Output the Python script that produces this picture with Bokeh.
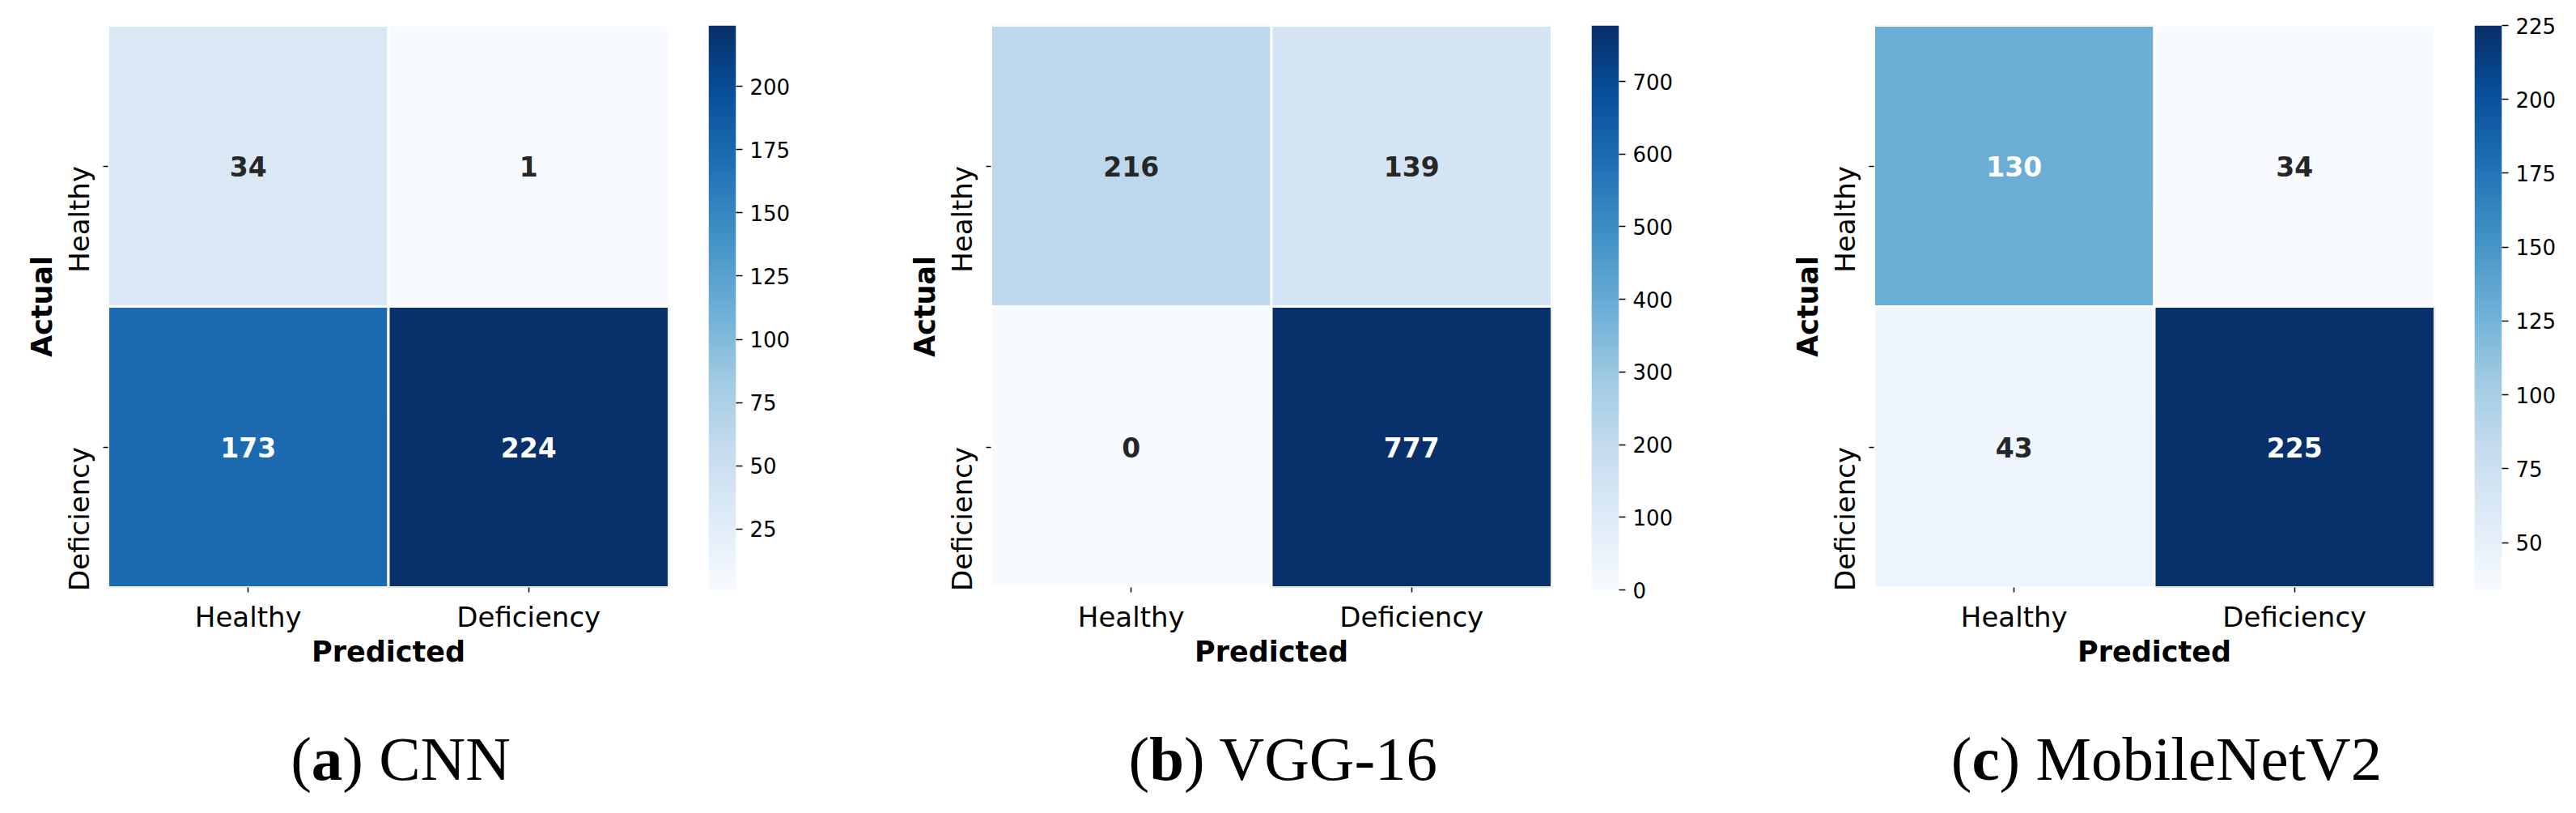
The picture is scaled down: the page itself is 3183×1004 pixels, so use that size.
import numpy as np
from bokeh.plotting import figure
from bokeh.models import (LinearColorMapper, Label, FixedTicker, Range1d,
                          ColumnDataSource)
from bokeh.transform import transform
from bokeh.palettes import Blues256
from bokeh.layouts import row, column
from bokeh.core.properties import value
from bokeh.embed import file_html
from bokeh.resources import INLINE

# ---------------- data ----------------
CLASSES = ["Healthy", "Deficiency"]          # rows: actual, cols: predicted
CNN = [[34, 1], [173, 224]]
VGG16 = [[216, 139], [0, 777]]
MOBILENET = [[130, 34], [43, 225]]

CB_TICKS_CNN = [25, 50, 75, 100, 125, 150, 175, 200]
CB_TICKS_VGG = [0, 100, 200, 300, 400, 500, 600, 700]
CB_TICKS_MOB = [50, 75, 100, 125, 150, 175, 200, 225]

CAPTION_LETTERS = ["a", "b", "c"]
CAPTION_NAMES = ["CNN", "VGG-16", "MobileNetV2"]

# ---------------- style / layout ----------------
PAL = list(reversed(Blues256))
SANS = "DejaVu Sans"
SERIF = "Liberation Serif"
FRAME_W, FRAME_H = 693, 694
MAIN_LEFT, MAIN_RIGHT, MAIN_TOP, MAIN_BOTTOM = 133, 20, 31, 170
CB_W, CB_H = 34, 697
CB_LEFT, CB_TOP, CB_BOTTOM = 29, 29, 169
CB_RIGHT = [182, 182, 80]
CAP_H, CAP_BASE, CAP_SHIFT = 105, 64, 15
TICK_FS = "34px"
LABEL_FS = "35px"
ANNOT_FS = "33px"
CB_FS = "26px"
CAP_FS = 77

# Times-like advance widths (em) for caption layout
W_TIMES = {"(": .333, ")": .333, " ": .25, "C": .667, "N": .722, "V": .722,
           "G": .722, "-": .333, "1": .5, "6": .5, "M": .889, "o": .5,
           "b": .5, "i": .278, "l": .278, "e": .444, "t": .278, "2": .5}
W_BOLD = {"a": .5, "b": .556, "c": .444}


def rel_lum(hexc):
    h = hexc.lstrip("#")
    vals = []
    for k in (0, 2, 4):
        c = int(h[k:k + 2], 16) / 255.0
        vals.append(c / 12.92 if c <= 0.03928 else ((c + 0.055) / 1.055) ** 2.4)
    return 0.2126 * vals[0] + 0.7152 * vals[1] + 0.0722 * vals[2]


def text_width(s, table, fs):
    return sum(table.get(ch, .5) for ch in s) * fs


def make_panel(matrix, cb_ticks, cb_right):
    flat = [v for r in matrix for v in r]
    vmin, vmax = min(flat), max(flat)
    mapper = LinearColorMapper(palette=PAL, low=vmin, high=vmax)

    xs, ys, vals, txt, tcol = [], [], [], [], []
    for i, actual in enumerate(CLASSES):
        for j, pred in enumerate(CLASSES):
            v = matrix[i][j]
            xs.append(pred)
            ys.append(actual)
            vals.append(v)
            txt.append(str(v))
            idx = int(round((v - vmin) / (vmax - vmin) * (len(PAL) - 1)))
            tcol.append("#262626" if rel_lum(PAL[idx]) > 0.408 else "#ffffff")
    src = ColumnDataSource(dict(x=xs, y=ys, v=vals, t=txt, c=tcol))

    p = figure(title=None, x_range=CLASSES, y_range=list(reversed(CLASSES)),
               frame_width=FRAME_W, frame_height=FRAME_H,
               min_border_left=MAIN_LEFT, min_border_right=MAIN_RIGHT,
               min_border_top=MAIN_TOP, min_border_bottom=MAIN_BOTTOM,
               toolbar_location=None, output_backend="svg",
               outline_line_color=None, background_fill_color="white",
               border_fill_color="white")
    p.rect(x="x", y="y", width=1, height=1, source=src,
           fill_color=transform("v", mapper), line_color="white", line_width=3)
    p.text(x="x", y="y", text="t", source=src, text_color="c",
           text_font=value(SANS), text_font_style="bold",
           text_font_size=ANNOT_FS, text_align="center",
           text_baseline="middle")
    p.grid.visible = False

    for ax in (p.xaxis[0], p.yaxis[0]):
        ax.axis_line_color = None
        ax.major_tick_out = 6
        ax.major_tick_in = 0
        ax.major_tick_line_width = 1.5
        ax.major_label_text_font = SANS
        ax.major_label_text_font_size = TICK_FS
        ax.major_label_text_color = "black"
        ax.axis_label_text_font = SANS
        ax.axis_label_text_font_style = "bold"
        ax.axis_label_text_font_size = LABEL_FS
        ax.axis_label_text_color = "black"
    xa = p.xaxis[0]
    xa.major_label_standoff = 10
    xa.axis_label = "Predicted"
    xa.axis_label_standoff = 0
    ya = p.yaxis[0]
    ya.major_label_orientation = np.pi / 2
    ya.major_label_standoff = 30
    ya.axis_label = "Actual"
    ya.axis_label_standoff = -17

    # colour bar as its own small figure
    cb = figure(title=None, x_range=Range1d(0, 1), y_range=Range1d(vmin, vmax),
                frame_width=CB_W, frame_height=CB_H,
                min_border_left=CB_LEFT, min_border_right=cb_right,
                min_border_top=CB_TOP, min_border_bottom=CB_BOTTOM,
                x_axis_location=None, y_axis_location="right",
                toolbar_location=None, output_backend="svg",
                outline_line_color=None, background_fill_color="white",
                border_fill_color="white")
    grad = np.linspace(vmin, vmax, 256).reshape(256, 1)
    cb.image(image=[grad], x=0, y=vmin, dw=1, dh=vmax - vmin,
             color_mapper=mapper)
    cb.grid.visible = False
    a = cb.yaxis[0]
    a.ticker = FixedTicker(ticks=cb_ticks)
    a.axis_line_color = None
    a.major_tick_out = 8
    a.major_tick_in = 0
    a.major_tick_line_width = 1.5
    a.minor_tick_line_color = None
    a.major_label_text_font = SANS
    a.major_label_text_font_size = CB_FS
    a.major_label_text_color = "black"
    a.major_label_standoff = 9
    return p, cb


panels = []
specs = [(CNN, CB_TICKS_CNN), (VGG16, CB_TICKS_VGG), (MOBILENET, CB_TICKS_MOB)]
for k, (m, t) in enumerate(specs):
    p, cb = make_panel(m, t, CB_RIGHT[k])
    panels.extend([p, cb])

main_w = MAIN_LEFT + FRAME_W + MAIN_RIGHT
cb_w = [CB_LEFT + CB_W + r for r in CB_RIGHT]
total_w = 3 * main_w + sum(cb_w)

# caption strip: "(x) Name" with a bold letter, centred under each heatmap
cap = figure(title=None, x_range=Range1d(0, total_w), y_range=Range1d(0, CAP_H),
             frame_width=total_w, frame_height=CAP_H,
             min_border=0, x_axis_location=None, y_axis_location=None,
             toolbar_location=None, output_backend="svg",
             outline_line_color=None, background_fill_color="white",
             border_fill_color="white")
cap.grid.visible = False
for k in range(3):
    left = k * main_w + sum(cb_w[:k])
    centre = left + MAIN_LEFT + FRAME_W / 2 + CAP_SHIFT
    letter, name = CAPTION_LETTERS[k], CAPTION_NAMES[k]
    w1 = text_width("(", W_TIMES, CAP_FS)
    w2 = W_BOLD[letter] * CAP_FS
    w3 = text_width(") " + name, W_TIMES, CAP_FS)
    start = centre - (w1 + w2 + w3) / 2
    for txt_, off, style in (("(", 0, "normal"), (letter, w1, "bold"),
                             (") " + name, w1 + w2, "normal")):
        cap.add_layout(Label(x=start + off, y=CAP_BASE, text=txt_,
                             text_align="left", text_baseline="alphabetic",
                             text_font=SERIF, text_font_style=style,
                             text_font_size=f"{CAP_FS}px", text_color="black"))

layout = column(row(*panels, spacing=0), cap, spacing=0)
open("out.html", "w").write(file_html(layout, INLINE))
